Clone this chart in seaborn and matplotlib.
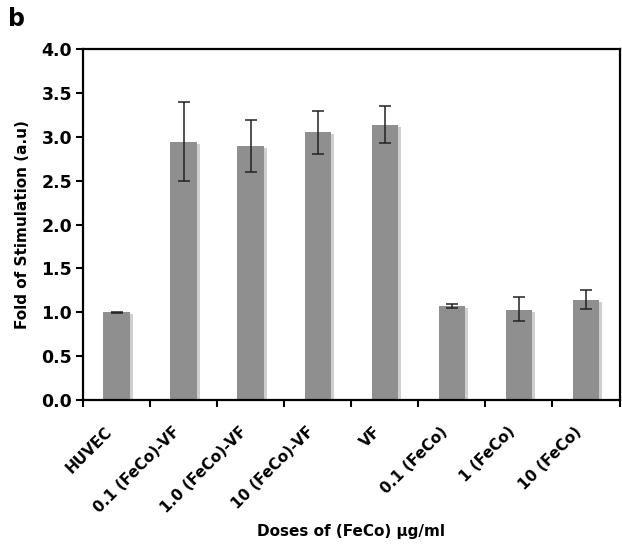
import numpy as np
import pandas as pd
import matplotlib
matplotlib.use("Agg")
import matplotlib.pyplot as plt
import seaborn as sns
from matplotlib.ticker import FixedLocator

categories = ["HUVEC", "0.1 (FeCo)-VF", "1.0 (FeCo)-VF", "10 (FeCo)-VF", "VF",
              "0.1 (FeCo)", "1 (FeCo)", "10 (FeCo)"]
values = [1.00, 2.94, 2.89, 3.05, 3.13, 1.07, 1.03, 1.14]
err_low = [0.005, 0.44, 0.29, 0.25, 0.20, 0.015, 0.13, 0.10]
err_high = [0.005, 0.45, 0.30, 0.24, 0.22, 0.03, 0.14, 0.11]
yticks = [0.0, 0.5, 1.0, 1.5, 2.0, 2.5, 3.0, 3.5, 4.0]

sns.set_style("white")
plt.rcParams['font.family'] = ['DejaVu Sans']
plt.rcParams['text.color'] = 'black'
plt.rcParams['axes.labelcolor'] = 'black'
plt.rcParams['xtick.color'] = 'black'
plt.rcParams['ytick.color'] = 'black'

df = pd.DataFrame({"cat": categories, "val": values})

fig = plt.figure(figsize=(6.22, 5.49), dpi=100)
ax = fig.add_axes([0.134, 0.271, 0.862, 0.64])

sns.barplot(data=df, x="cat", y="val", color="#8f8f8f", saturation=1,
            width=0.4, ax=ax, errorbar=None, edgecolor="none")
for p in ax.patches:
    x0 = p.get_x(); w = p.get_width(); h = p.get_height()
    ax.add_patch(plt.Rectangle((x0 + w, 0), 0.04, h - 0.02, color="#cfcfcf",
                               zorder=p.get_zorder() - 0.1, lw=0))

xs = np.arange(len(categories))
ax.errorbar(xs, values, yerr=[err_low, err_high], fmt="none", ecolor="#222222",
            elinewidth=1.1, capsize=4, capthick=1.1)

ax.set_ylim(0, 4.0)
ax.set_xlim(-0.5, len(categories) - 0.5)
ax.set_yticks(yticks)
ax.set_yticklabels([f"{v:.1f}" for v in yticks], fontsize=12.5, fontweight="bold")
# labels anchored slightly left of each bar centre (invisible major ticks)
ax.set_xticks(xs - 0.18)
ax.set_xticklabels(categories, rotation=45, ha="right", rotation_mode="anchor",
                   fontsize=11, fontweight="bold")
ax.xaxis.set_minor_locator(FixedLocator(np.arange(-0.5, len(categories), 1.0)))
ax.tick_params(axis="x", which="major", length=0, pad=17)
ax.tick_params(axis="x", which="minor", length=5, width=1.5, direction="out",
               bottom=True)
ax.tick_params(axis="y", which="major", length=5, width=1.5, direction="out",
               left=True, pad=3)

for s in ax.spines.values():
    s.set_visible(True)
    s.set_color("black")
    s.set_linewidth(1.6)

ax.set_ylabel("Fold of Stimulation (a.u)", fontsize=11, fontweight="bold", labelpad=8)
ax.set_xlabel("Doses of (FeCo) \u03bcg/ml", fontsize=11, fontweight="bold", labelpad=6)

fig.text(0.013, 0.965, "b", fontsize=17, fontweight="bold", va="center")

fig.savefig("out.png", dpi=100)
